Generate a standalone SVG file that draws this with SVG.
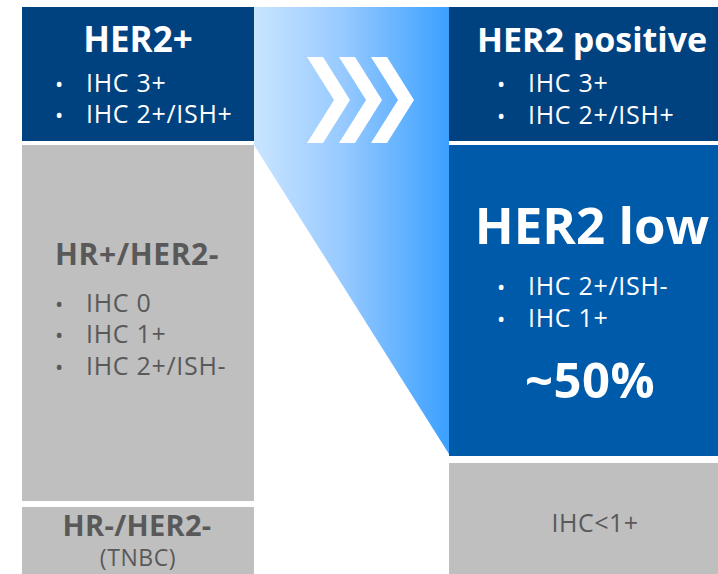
<svg xmlns="http://www.w3.org/2000/svg" width="718" height="574" viewBox="0 0 718 574">
<defs>
<linearGradient id="g" x1="254" y1="0" x2="449" y2="0" gradientUnits="userSpaceOnUse">
<stop offset="0" stop-color="#c9e5ff"/>
<stop offset="0.45" stop-color="#98caff"/>
<stop offset="1" stop-color="#3ba0ff"/>
</linearGradient>
<polygon id="chev" points="0,0 16,0 43,43 16,86 0,86 27,43" fill="#ffffff"/>
</defs>
<style>
text{font-family:"Open Sans","Noto Sans","DejaVu Sans",sans-serif}
.w{fill:#ffffff}
.g{fill:#595959}
.b{font-weight:bold}
.li{font-size:25px;letter-spacing:0.7px}
.bu{font-size:22px}
</style>
<rect width="718" height="574" fill="#ffffff"/>
<g id="transition">
<polygon points="254,7 449,7 449,454 254,145" fill="url(#g)"/>
<use href="#chev" x="307" y="57"/>
<use href="#chev" x="339" y="57"/>
<use href="#chev" x="371" y="57"/>
</g>
<g id="her2plus">
<rect x="22" y="7" width="232" height="134" fill="#00427f"/>
<text x="138" y="52" class="w b" font-size="35" text-anchor="middle">HER2+</text>
<text x="55" y="92" class="w bu">•</text><text x="86" y="92" class="w li">IHC 3+</text>
<text x="55" y="123" class="w bu">•</text><text x="86" y="123" class="w li">IHC 2+/ISH+</text>
</g>
<g id="hrpos">
<rect x="22" y="145" width="232" height="356" fill="#bfbfbf"/>
<text x="55" y="265" class="g b" font-size="30" letter-spacing="0.6">HR+/HER2-</text>
<text x="55" y="312" class="g bu">•</text><text x="86" y="312" class="g li">IHC 0</text>
<text x="55" y="343" class="g bu">•</text><text x="86" y="343" class="g li">IHC 1+</text>
<text x="55" y="375" class="g bu">•</text><text x="86" y="375" class="g li">IHC 2+/ISH-</text>
</g>
<g id="tnbc">
<rect x="22" y="507" width="232" height="67" fill="#bfbfbf"/>
<text x="137" y="536" class="g b" font-size="29" letter-spacing="0.3" text-anchor="middle">HR-/HER2-</text>
<text x="138" y="566" class="g" font-size="23" letter-spacing="0.6" text-anchor="middle">(TNBC)</text>
</g>
<g id="her2positive">
<rect x="449" y="7" width="269" height="134" fill="#00427f"/>
<text x="592" y="52" class="w b" font-size="34" text-anchor="middle">HER2 positive</text>
<text x="497" y="92" class="w bu">•</text><text x="528" y="92" class="w li">IHC 3+</text>
<text x="497" y="124" class="w bu">•</text><text x="528" y="124" class="w li">IHC 2+/ISH+</text>
</g>
<g id="her2low">
<rect x="449" y="145" width="269" height="311" fill="#005aaa"/>
<text x="592" y="244" class="w b" font-size="51" text-anchor="middle">HER2 low</text>
<text x="497" y="295" class="w bu">•</text><text x="528" y="295" class="w li">IHC 2+/ISH-</text>
<text x="497" y="327" class="w bu">•</text><text x="528" y="327" class="w li">IHC 1+</text>
<text x="590" y="398" class="w b" font-size="49" letter-spacing="0.5" text-anchor="middle">~50%</text>
</g>
<g id="ihcless">
<rect x="449" y="463" width="269" height="111" fill="#bfbfbf"/>
<text x="595" y="532" class="g" font-size="25" letter-spacing="0.5" text-anchor="middle">IHC&lt;1+</text>
</g>
<g id="connectors"/>
</svg>
